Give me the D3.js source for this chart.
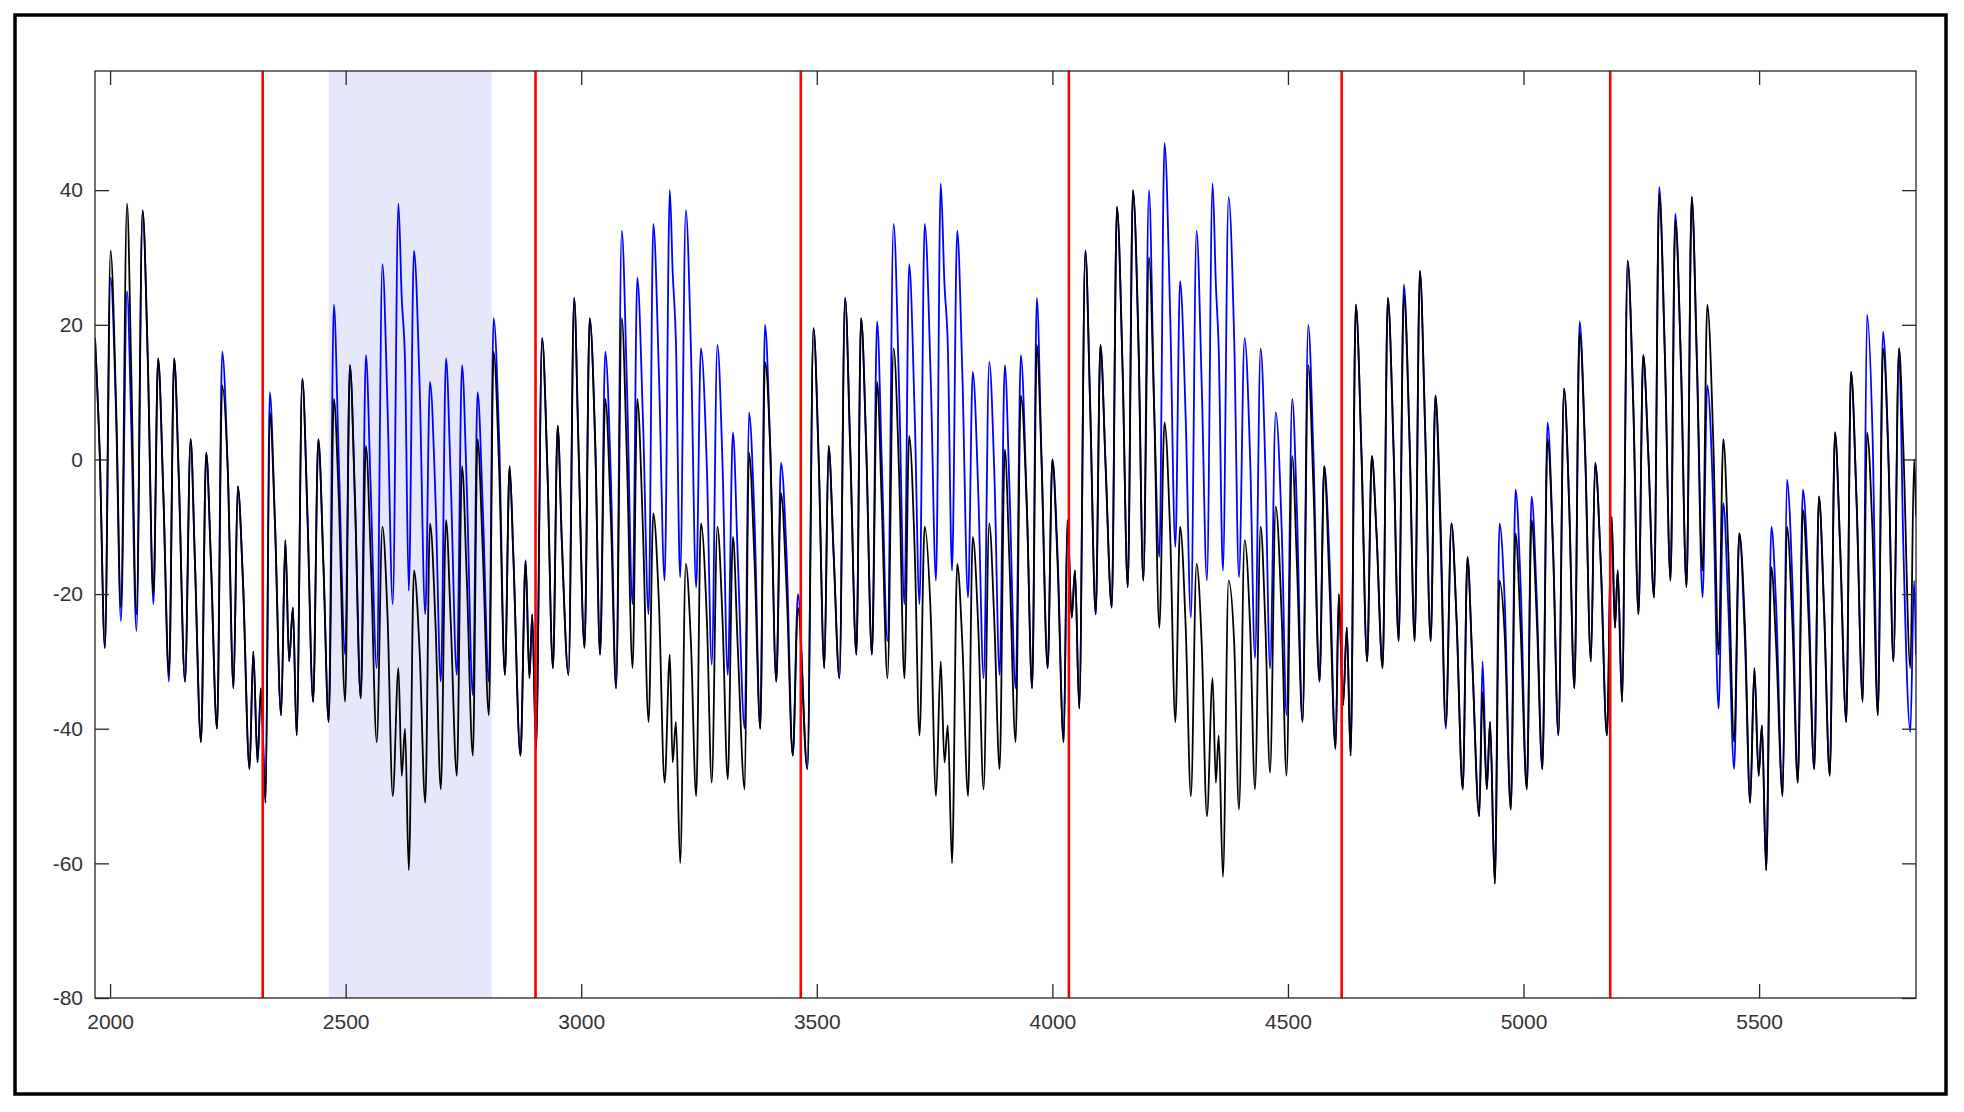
<!DOCTYPE html>
<html>
<head>
<meta charset="utf-8">
<script src="https://cdn.jsdelivr.net/npm/d3@7"></script>
<style>
  body { margin: 0; background: #fff; }
  .tick text { font-family: "Liberation Sans", Arial, sans-serif; font-size: 21px; fill: #333; }
</style>
</head>
<body>
<div id="chart"></div>
<script>
// sample times (x), one row per stretch of the trace
var sampleT = [
  1968,1978,1989,2001,2013,2023,2036,2045,2056,2069,2080,2092,2102,2113,2125,2136,2146,2159,2171,2180,2193,2204,2214,2227,2238,2250,2262,2271,2282,2296,2304,2313,2320,2330,2339,2350,2363,2372,2380,2388,2396,2408,2419,2431,2442,2453,2464,
  2475,2485,2499,2509,2520,2532,2543,2553,2566,2578,2589,2600,2612,2619,2626,2634,2645,2657,2669,2679,2691,2702,2713,2723,2736,2747,2757,2770,2780,2791,2804,2814,2826,2838,2848,2856,2871,2882,2890,2896,2904,2917,2928,2940,2950,2959,
  2973,2985,2994,3007,3018,3030,3040,3051,3063,3074,3086,3097,3109,3119,3131,3143,3153,3165,3177,3188,3194,3201,3210,3222,3233,3244,3254,3267,3277,3289,3300,3311,3322,3332,3347,3356,3368,3380,3390,3401,3414,3424,3436,3449,3460,
  3480,3493,3504,3516,3525,3536,3548,3560,3571,3584,3594,3605,3617,3628,3638,3650,3663,3675,3686,3696,3708,3718,3729,3742,3753,3763,3771,3778,3787,3798,3809,3821,3831,3843,3854,3866,3877,3888,3899,3909,3922,3933,3946,3957,
  3967,3977,3990,4000,4011,4024,4032,4041,4048,4057,4070,4080,4092,4102,4113,4126,4137,4149,4160,4171,4183,4193,4205,4216,4227,4238,4250,4261,4271,4283,4294,4306,4317,4328,4340,4347,4353,4362,4374,4386,4396,4408,4420,4430,4442,4452,4462,
  4474,4487,4497,4509,4519,4531,4543,4554,4567,4577,4588,4601,4608,4617,4625,4633,4644,4656,4668,4678,4688,4701,4712,4724,4735,4746,4758,4769,4780,4791,4803,4813,4824,4835,4847,4858,4871,4881,4891,4906,4913,4922,4929,4939,4949,4960,
  4973,4983,4994,5007,5017,5028,5040,5051,5063,5074,5086,5097,5108,5119,5131,5143,5152,5164,5177,5187,5194,5200,5209,5221,5233,5244,5254,5265,5277,5288,5300,5312,5322,5334,5346,5357,5368,5380,5390,5403,5414,5424,5435,5447,5458,
  5470,5481,5490,5499,5506,5515,5526,5536,5550,5559,5571,5582,5593,5605,5617,5627,5638,5650,5661,5672,5685,5695,5707,5720,5729,5741,5752,5763,5775,5785,5797,5806,5821,5829,5833
];

// black trace (drawn on top)
var blackV = [
  18,1,-28,31,7.5,-22,38,13,-23,37,15,-20,15,-5,-32,15,-3,-33,3,-15,-42,1,-15,-40,11,-2,-34,-4,-18,-46,-28.5,-45,-34,-51,7,-9.5,-38,-12,-30,-22,-41,12,-8.5,-36,3,-16,-39,
  9,-5,-36,14,-6.5,-35.5,2,-14,-42,-10,-23.5,-50,-31,-47,-40,-61,-16.5,-28.5,-51,-9.5,-25,-49,-9,-24,-47,-1,-17.5,-44,3,-13.5,-38,16,-2,-32,-1,-14.5,-44,-15,-32.5,-23,-43,18,-1,-31,5,-12.5,
  -32,24,2.5,-28,21,1.5,-29,9,-9,-34,21,0,-31,9,-10.5,-39,-8,-21.5,-48,-29,-45,-39,-60,-15.5,-27.5,-50,-9.5,-24.5,-48,-10,-24,-47.5,-11.5,-27.5,-49,1,-15.5,-40,14.5,2,-33,-5,-19.5,-44,-22,
  -46,19.5,0,-31,2,-14.5,-32.5,24,1.5,-29,21,1.5,-29,11.5,-7,-32.5,16.5,-3,-32.5,3.5,-14,-41,-10,-23.5,-50,-30,-45,-39.5,-60,-15.5,-27.5,-50,-11.5,-25.5,-49,-9.5,-24.5,-46,1.5,-15.5,-42,9.5,-7.5,-34,
  17,0,-31,0,-15.5,-42,-9,-23.5,-16.5,-37,31,8.5,-23,17,-1,-22,37.5,13.5,-19,40,16.5,-18,30,7.5,-25,5.5,-11,-39,-10,-25,-50,-15.5,-27.5,-53,-32.5,-48,-41,-62,-18,-27.5,-52,-12,-25.5,-49,-10,-24.5,-46.5,
  -7,-24,-47,0.5,-15.5,-39,14,-4,-33,-1,-18.5,-43,-20,-36.5,-25,-44,23,1,-30,0.5,-11,-31,24,2,-27,24.5,3,-27,28,5,-27,9.5,-9.5,-39.5,-9.5,-24,-49,-14.5,-29.5,-53,-34.5,-49,-39,-63,-18,-26,
  -52,-11,-25.5,-49,-9,-23.5,-46,3,-14,-41,10.5,-7,-34,19,0.5,-30,-0.5,-15.5,-41,-8.5,-25,-16.5,-36,29.5,8,-23,15.5,0.5,-20.5,39.5,15.5,-18,35.5,14.5,-19,39,14.5,-16.5,23,2,-29,3,-14.5,-42,-11,
  -25,-51,-31,-47,-39.5,-61,-16,-27.5,-50,-10,-25,-48,-7.5,-23.5,-46,-5.5,-22.5,-47,4,-13,-39,13,-6.5,-36,4,-11.5,-38,16.5,-1,-30,16.5,2,-31,0,-8.5
];

// blue trace (underneath, shows where it differs)
var blueV = [
  18,1,-28,27,6,-24,25,5,-25.5,37,15,-21.5,15,-5,-33,15,-3,-33,3,-15,-42,1,-15,-40,16,-2,-34,-4,-18,-46,-28.5,-45,-34,-51,10,-9.5,-38,-12,-30,-22,-41,12,-8.5,-36,3,-16,-39,
  23,1,-29,14,-6.5,-35.5,15.5,-4,-31,29,7.5,-21.5,38,24,14.5,-19.5,31,11,-23,11.5,-6.5,-33,15,-3,-32,14,-4,-35,10,-7,-33,21,2.5,-32,-1,-14.5,-44,-15,-32.5,-23,-43,18,-1,-31,5,-12.5,
  -32,24,2.5,-28,21,1.5,-29,16,-3,-34,34,11,-21.5,27,6,-23,35,12.5,-18,40,28,17.5,-17.5,37,16,-19,16.5,-2,-30.5,17,-1,-32,4,-14,-40,7,-9.5,-40,20,2,-33,-0.5,-14.5,-44,-20,
  -46,19.5,0,-31,2,-14.5,-32.5,24,1.5,-29,21,1.5,-29,20.5,-0.5,-27,35,9.5,-21.5,29,6,-21.5,35,11.5,-18,41,26,17,-16.5,34,12.5,-20.5,13,-5.5,-32.5,14.5,-2.5,-32,14,-4.5,-34,15.5,-7.5,-34,
  24,0,-31,0,-14,-42,-9,-23.5,-16.5,-37,31,8.5,-23,17,-1,-22,37.5,13.5,-19,40,16.5,-18,40,8,-14.5,47,21.5,-13,26.5,6,-23.5,34,11,-18,41,26,16.5,-16.5,39,17.5,-17.5,18,-0.5,-29.5,16.5,-1,-31,
  7,-11,-38,9,-7.5,-39,20,1,-33,-1,-14.5,-43,-20,-36.5,-25,-44,23,1,-30,0.5,-11,-31,24,2,-27,26,3,-27,28,5,-27,9.5,-12,-40,-9.5,-24,-49,-14.5,-29.5,-53,-30,-49,-39,-63,-9.5,-21,
  -52,-4.5,-19,-49,-5.5,-20.5,-46,5.5,-14,-41,10.5,-7,-34,20.5,0.5,-30,-0.5,-15.5,-41,-8.5,-25,-16.5,-36,29.5,8,-23,15.5,0.5,-20.5,40.5,15.5,-18,36.5,14.5,-19,39,14.5,-20.5,11,-7,-37,-6.5,-22.5,-46,-11,
  -27,-51,-31,-47,-39.5,-61,-10,-21.5,-50,-3,-19,-48,-4.5,-19.5,-46,-5.5,-22.5,-47,4,-13,-39,13,-6.5,-36,21.5,3,-38,19,-1,-30,16.5,-12.5,-40.5,-18,-29
];

// red event markers and the shaded window
var eventT = [2324, 2903, 3466, 4035, 4614, 5184];
var shadeT = [2464, 2810];

var xTicks = [2000, 2500, 3000, 3500, 4000, 4500, 5000, 5500];
var yTicks = [-80, -60, -40, -20, 0, 20, 40];
var xDomain = [1968, 5833];
var yDomain = [-80, 57.7];

var svgWidth = 1964;
var svgHeight = 1112;

var plot = { left: 95, top: 71, right: 1916, bottom: 998 };

var svg = d3.select("#chart")
    .append("svg")
    .attr("width", svgWidth)
    .attr("height", svgHeight);

// figure frame
svg.append("rect")
    .attr("x", 15).attr("y", 15)
    .attr("width", 1931).attr("height", 1079)
    .attr("fill", "#fff")
    .attr("stroke", "#000")
    .attr("stroke-width", 3.5);

var xScale = d3.scaleLinear().domain(xDomain).range([plot.left, plot.right]);
var yScale = d3.scaleLinear().domain(yDomain).range([plot.bottom, plot.top]);

svg.append("clipPath").attr("id", "clip")
  .append("rect")
    .attr("x", plot.left).attr("y", plot.top)
    .attr("width", plot.right - plot.left)
    .attr("height", plot.bottom - plot.top);

// shaded window
svg.append("rect")
    .attr("x", xScale(shadeT[0]))
    .attr("y", plot.top)
    .attr("width", xScale(shadeT[1]) - xScale(shadeT[0]))
    .attr("height", plot.bottom - plot.top)
    .attr("fill", "#e6e7fa");

var n = Math.min(sampleT.length, blackV.length, blueV.length);
var idx = d3.range(n);

function traceLine(vals) {
    return d3.line()
        .x(i => xScale(sampleT[i]))
        .y(i => yScale(vals[i]))
        .curve(d3.curveMonotoneX);
}

var traces = svg.append("g").attr("clip-path", "url(#clip)");

traces.append("path")
    .datum(idx)
    .attr("d", traceLine(blueV))
    .attr("fill", "none")
    .attr("stroke", "#0000ff")
    .attr("stroke-width", 1.8);

traces.append("path")
    .datum(idx)
    .attr("d", traceLine(blackV))
    .attr("fill", "none")
    .attr("stroke", "#000")
    .attr("stroke-width", 1.8);

// red markers
svg.selectAll(".event")
    .data(eventT)
    .enter()
    .append("line")
    .attr("class", "event")
    .attr("x1", d => xScale(d))
    .attr("x2", d => xScale(d))
    .attr("y1", plot.top)
    .attr("y2", plot.bottom)
    .attr("stroke", "#ff0000")
    .attr("stroke-width", 2.6);

// axes, MATLAB style: ticks inside on all four sides
var tickLen = 14;
var axisColor = "#262626";
var plain = d => String(d);

var bottomAxis = d3.axisBottom(xScale).tickValues(xTicks).tickSizeInner(-tickLen).tickSizeOuter(0).tickPadding(16).tickFormat(plain);
var topAxis = d3.axisTop(xScale).tickValues(xTicks).tickSizeInner(-tickLen).tickSizeOuter(0).tickFormat("");
var leftAxis = d3.axisLeft(yScale).tickValues(yTicks).tickSizeInner(-tickLen).tickSizeOuter(0).tickPadding(12).tickFormat(plain);
var rightAxis = d3.axisRight(yScale).tickValues(yTicks).tickSizeInner(-tickLen).tickSizeOuter(0).tickFormat("");

var gb = svg.append("g").attr("transform", `translate(0, ${plot.bottom})`).call(bottomAxis);
var gt = svg.append("g").attr("transform", `translate(0, ${plot.top})`).call(topAxis);
var gl = svg.append("g").attr("transform", `translate(${plot.left}, 0)`).call(leftAxis);
var gr = svg.append("g").attr("transform", `translate(${plot.right}, 0)`).call(rightAxis);

[gb, gt, gl, gr].forEach(function (g) {
    g.select(".domain").remove();
    g.selectAll(".tick line").attr("stroke", axisColor).attr("stroke-width", 1.3);
});

// axes box
svg.append("rect")
    .attr("x", plot.left).attr("y", plot.top)
    .attr("width", plot.right - plot.left)
    .attr("height", plot.bottom - plot.top)
    .attr("fill", "none")
    .attr("stroke", axisColor)
    .attr("stroke-width", 1.3);
</script>
</body>
</html>
